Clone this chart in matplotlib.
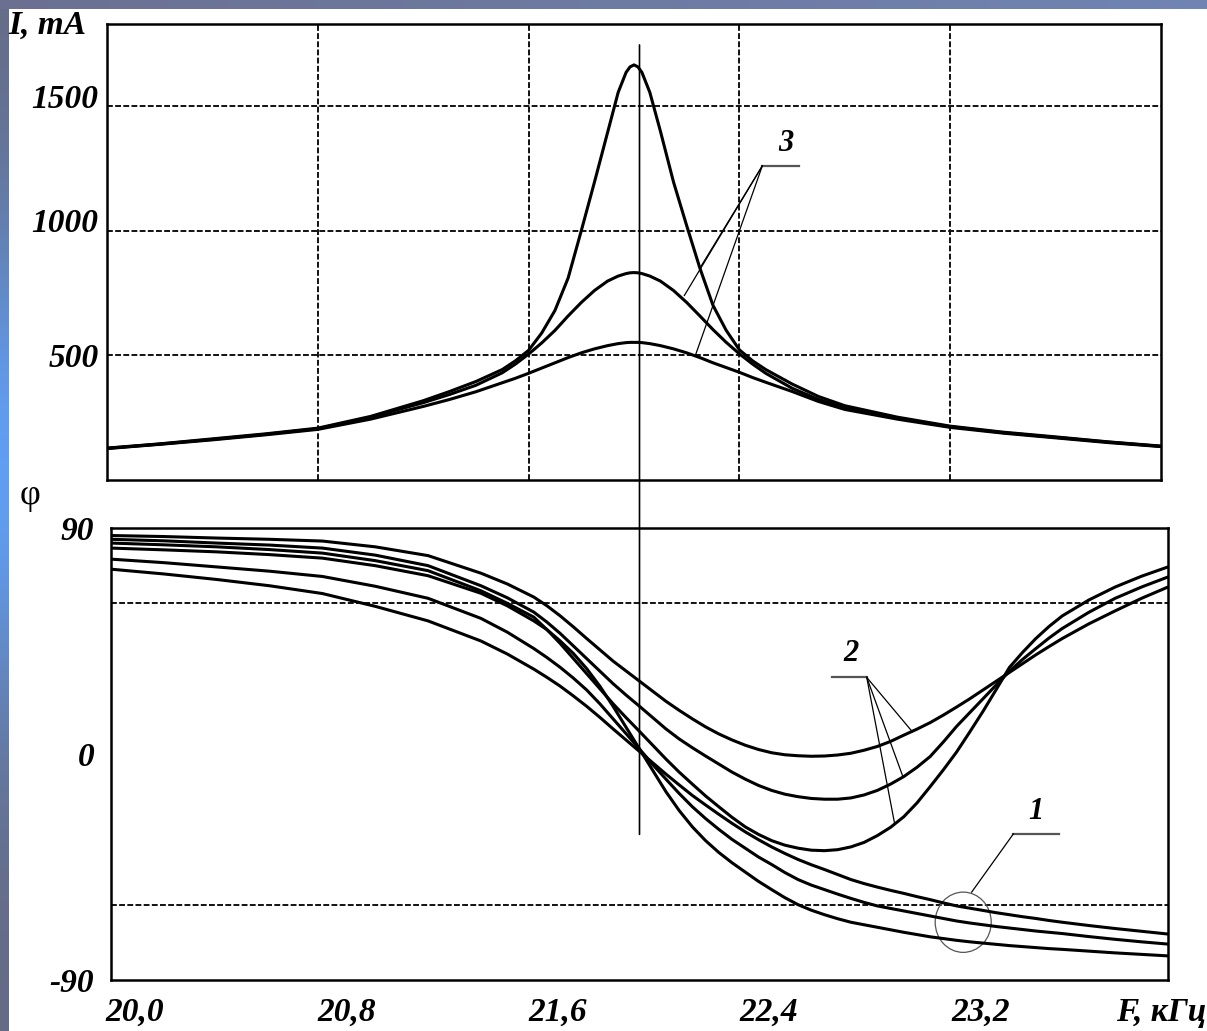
import numpy as np
import matplotlib.pyplot as plt
from matplotlib.patches import Ellipse, ConnectionPatch
from matplotlib.transforms import ScaledTranslation, blended_transform_factory

plt.rcParams['font.family'] = ['Liberation Serif', 'DejaVu Serif']

# --- Data: current amplitude I (mA) vs frequency F (kHz) ---
freq_I = [20.0, 20.2, 20.4, 20.6, 20.8, 21.0, 21.2, 21.3, 21.4, 21.5, 21.55, 21.6,
          21.65, 21.7, 21.75, 21.8, 21.85, 21.9, 21.94, 21.97, 21.985, 22.0, 22.015,
          22.03, 22.06, 22.1, 22.15, 22.2, 22.25, 22.3, 22.35, 22.4, 22.45, 22.5,
          22.6, 22.7, 22.8, 23.0, 23.2, 23.4, 23.6, 23.8, 24.0]
I_high = [128, 145, 165, 185, 208, 255, 318, 355, 395, 443, 478, 520,
          590, 680, 810, 1000, 1195, 1395, 1555, 1635, 1657, 1665, 1657,
          1635, 1555, 1400, 1195, 1020, 850, 700, 600, 522, 478, 443,
          385, 335, 298, 252, 216, 192, 173, 153, 136]
I_mid = [127, 144, 163, 183, 206, 252, 310, 343, 380, 430, 465, 505,
         550, 600, 658, 712, 760, 798, 818, 828, 831, 832, 831,
         828, 818, 798, 760, 712, 658, 603, 552, 506, 465, 428,
         368, 323, 289, 248, 214, 190, 171, 152, 135]
I_low = [126, 143, 161, 181, 203, 244, 295, 323, 354, 390, 408, 428,
         449, 470, 491, 510, 526, 539, 547, 551, 552, 552, 552,
         551, 547, 539, 526, 510, 491, 470, 451, 432, 411, 392,
         355, 315, 283, 244, 211, 188, 169, 150, 134]

# --- Data: phase angle (deg) vs frequency F (kHz) ---
freq_phi = [20.0, 20.2, 20.4, 20.6, 20.8, 21.0, 21.2, 21.4, 21.5,
            21.6, 21.65, 21.7, 21.75, 21.8, 21.85, 21.9, 21.95, 22.0, 22.05,
            22.1, 22.15, 22.2, 22.25, 22.3, 22.35, 22.4, 22.45, 22.5, 22.55,
            22.6, 22.65, 22.7, 22.75, 22.8, 22.85, 22.9, 22.95, 23.0, 23.05,
            23.1, 23.15, 23.2, 23.25, 23.3, 23.35, 23.4, 23.45, 23.5, 23.55,
            23.6, 23.7, 23.8, 23.9, 24.0]
# group 1: monotonic curves
phi_1a = [82, 81.3, 80.5, 79.4, 78, 75, 71, 64, 59,
          53, 49.5, 45, 40, 34, 27, 19, 10.5, 2, -6.5,
          -15, -22.5, -29, -34.5, -39.2, -43.3, -47, -50.7, -54, -57.2,
          -60, -62.2, -64, -65.6, -67, -68, -69, -70, -71, -71.9,
          -72.8, -73.5, -74.2, -74.8, -75.3, -75.8, -76.3, -76.7, -77.1, -77.5,
          -77.8, -78.5, -79.2, -79.8, -80.4]
phi_1b = [77.6, 76.2, 74.5, 72.8, 70.7, 66.8, 62, 54, 48.5,
          42, 38.4, 34.5, 30.2, 25.5, 20, 14, 8, 2, -4.2,
          -10, -15.7, -21, -25.7, -30, -34, -37.5, -41, -44, -47.2,
          -50, -52.2, -54, -55.8, -57.5, -59.1, -60.5, -61.5, -62.5, -63.5,
          -64.5, -65.5, -66.5, -67.3, -68, -68.7, -69.3, -69.9, -70.5, -71,
          -71.5, -72.7, -73.8, -74.8, -75.7]
phi_1c = [73.6, 71.7, 69.5, 67, 63.9, 58.8, 53, 45, 39.8,
          33.8, 30.5, 27, 23.1, 19, 14.6, 10, 5.5, 1, -3.5,
          -8, -12.3, -16.5, -20.3, -24, -27.6, -31, -34.1, -37, -39.6,
          -42, -44.1, -46, -48, -50, -51.6, -53, -54.3, -55.5, -56.8,
          -58, -59.3, -60.5, -61.4, -62.3, -63.2, -64, -64.8, -65.5, -66.3,
          -67, -68.3, -69.5, -70.6, -71.7]
# group 2: curves with a minimum and a second rise
phi_2a = [87, 86.6, 86, 85.5, 84.8, 82.5, 79, 72, 67.7,
          62.5, 59, 55, 50.6, 46, 41.5, 37, 33, 29, 25,
          21, 17.4, 14, 10.8, 8, 5.6, 3.5, 1.8, 0.5, -0.3,
          -0.7, -0.9, -0.8, -0.4, 0.3, 1.5, 3, 5, 7.5, 9.9,
          12.5, 15.5, 18.7, 22, 25.5, 29, 32.5, 36, 39.5, 42.8,
          46, 51.8, 57, 62, 66.5]
phi_2b = [85.5, 84.9, 84, 83.2, 82, 79.2, 75, 67, 62.2,
          56.5, 52.5, 48, 43, 38, 33, 28, 23.4, 19, 14.5,
          10, 6, 2.5, -0.8, -4, -7.2, -10, -12.5, -14.5, -16,
          -17, -17.7, -18, -18, -17.5, -16.3, -14.5, -12, -9, -5.3,
          -1, 4.8, 11, 16.5, 22, 27.5, 33, 37.7, 42, 46.2,
          50, 56.4, 62, 66.5, 70.5]
phi_2c = [84, 83.3, 82.5, 81.4, 80, 77, 73, 65, 60,
          54.5, 49.5, 44, 38, 32, 26, 20, 14.4, 9, 3.5,
          -2, -7.2, -12, -16.7, -21, -25.2, -29, -32, -34.5, -36.3,
          -37.5, -38.3, -38.5, -38.1, -37, -35.2, -32.5, -29.2, -25, -19.5,
          -13, -6.3, 0.8, 8.8, 17, 25.7, 34.5, 40.5, 46, 50.8,
          55, 61.3, 66.5, 70.8, 74.5]

grid_f = [20.8, 21.6, 22.4, 23.2]
xtick_vals = [20.0, 20.8, 21.6, 22.4, 23.2]
xtick_labels = ['20,0', '20,8', '21,6', '22,4', '23,2']
I_ticks = [500, 1000, 1500]
phi_ticks = [-90, 0, 90]
phi_grid = [-60, 0, 60]
f_res = 22.0

W, H = 1207, 1031
fig = plt.figure(figsize=(W / 100, H / 100), dpi=100)
fig.patch.set_facecolor('white')

# scanned-slide border strips (gradient)
top_strip = fig.add_axes([0, 1 - 9 / H, 1, 9 / H])
c0, c1 = np.array([0.42, 0.44, 0.57]), np.array([0.44, 0.52, 0.70])
t = np.linspace(0, 1, 200)[None, :, None]
top_strip.imshow(c0 + (c1 - c0) * t, aspect='auto')
top_strip.axis('off')
left_strip = fig.add_axes([0, 0, 9 / W, 1 - 9 / H])
s = np.linspace(0, 1, 300)
bright = np.exp(-((s - 0.45) / 0.25) ** 2)[:, None, None]
cg, cb = np.array([0.40, 0.42, 0.52]), np.array([0.38, 0.62, 0.95])
left_strip.imshow(cg + (cb - cg) * bright, aspect='auto')
left_strip.axis('off')

grid_style = dict(color='#111111', linestyle=(0, (3, 1.2)), linewidth=1.4)
curve_style = dict(color='black', linewidth=2.2, solid_capstyle='round', solid_joinstyle='round')
tick_font = dict(fontsize=24, fontweight='bold', fontstyle='italic')


def px(x, y):
    return x / W, 1 - y / H


# --- Top panel: current ---
ax1 = fig.add_axes([107 / W, 1 - 480 / H, 1054 / W, 456 / H])
ax1.set_xlim(20, 24)
ax1.set_ylim(0, 1829)
ax1.set_xticks(grid_f)
ax1.set_yticks(I_ticks)
ax1.set_yticklabels([str(v) for v in I_ticks], **tick_font)
ax1.tick_params(length=0, labelbottom=False, pad=6)
ax1.grid(True, **grid_style)
ax1.set_axisbelow(True)
for sp in ax1.spines.values():
    sp.set_linewidth(1.8)
for lab, dy in zip(ax1.get_yticklabels(), [0, 11, 10]):
    lab.set_transform(lab.get_transform() + ScaledTranslation(0, dy / 100, fig.dpi_scale_trans))

for vals in (I_low, I_mid, I_high):
    ax1.plot(freq_I, vals, **curve_style)

# label 3 with leaders
ax1.text(22.578, 1348, '3', fontsize=22, fontweight='bold', fontstyle='italic',
         ha='center', va='center')
ax1.plot([22.487, 22.627], [1260, 1260], color='#555555', lw=1.6)
for xe, ye in [(22.191, 740), (22.256, 860), (22.233, 500)]:
    ax1.plot([22.487, xe], [1260, ye], color='black', lw=0.9)

# --- Bottom panel: phase ---
ax2 = fig.add_axes([111 / W, 1 - 980 / H, 1057 / W, 452 / H])
ax2.set_xlim(20, 24)
ax2.set_ylim(-90, 90)
ax2.set_xticks(xtick_vals)
ax2.set_xticklabels(xtick_labels, **tick_font)
ax2.set_xticks(grid_f, minor=True)
ax2.set_yticks(phi_ticks)
ax2.set_yticklabels([str(v) for v in phi_ticks], **tick_font)
ax2.set_yticks(phi_grid, minor=True)
ax2.tick_params(which='both', length=0)
ax2.tick_params(axis='y', pad=12)
ax2.tick_params(axis='x', pad=12)
ax2.grid(True, which='minor', **grid_style)
ax2.set_axisbelow(True)
for sp in ax2.spines.values():
    sp.set_linewidth(1.8)
for lab in ax2.get_xticklabels():
    lab.set_transform(lab.get_transform() + ScaledTranslation(0.24, 0, fig.dpi_scale_trans))

for vals in (phi_1a, phi_1b, phi_1c, phi_2a, phi_2b, phi_2c):
    ax2.plot(freq_phi, vals, **curve_style)

# label 2 with leaders
ax2.text(22.80, 40, '2', fontsize=22, fontweight='bold', fontstyle='italic',
         ha='center', va='center')
ax2.plot([22.73, 22.86], [30.5, 30.5], color='#555555', lw=1.6)
for xe, ye in [(23.033, 8.8), (22.995, -8.5), (22.965, -27.5)]:
    ax2.plot([22.86, xe], [30.5, ye], color='black', lw=0.9)

# label 1 with circle
ax2.text(23.50, -23, '1', fontsize=22, fontweight='bold', fontstyle='italic',
         ha='center', va='center')
ax2.plot([23.415, 23.586], [-31.8, -31.8], color='#555555', lw=1.6)
ax2.plot([23.415, 23.257], [-31.8, -55], color='black', lw=0.9)
ax2.add_patch(Ellipse((23.225, -67), width=0.212, height=24, fill=False,
                      edgecolor='#555555', lw=0.9))

# resonance line through both panels
con = ConnectionPatch(xyA=(f_res, 1745), coordsA=blended_transform_factory(ax2.transData, ax1.transData),
                      xyB=(f_res, -32), coordsB=ax2.transData, color='black', lw=1.2)
fig.add_artist(con)

# axis titles
fig.text(*px(8, 25), 'I, mA', fontsize=24, fontweight='bold', fontstyle='italic',
         ha='left', va='center')
fig.text(*px(20, 496), 'φ', fontsize=26, ha='left', va='center')
fig.text(*px(1116, 1012), 'F, кГц', fontsize=24, fontweight='bold', fontstyle='italic',
         ha='left', va='center')

fig.savefig('out.png', dpi=100)
